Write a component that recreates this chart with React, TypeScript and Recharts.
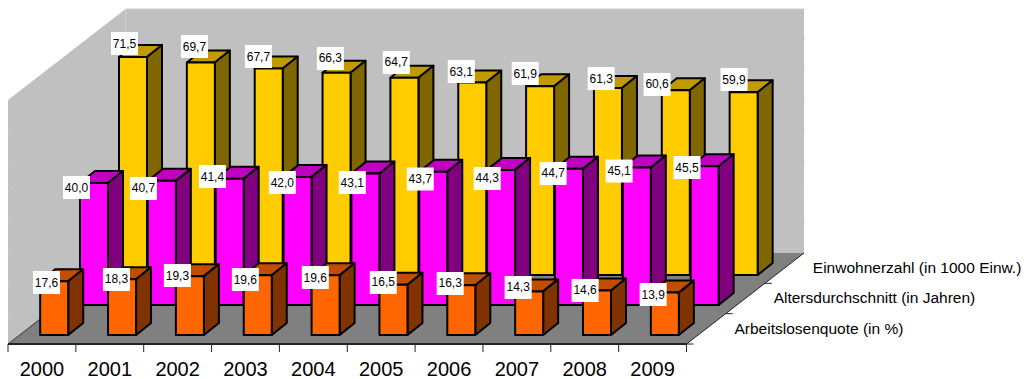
import React from "react";
import { Bar, ComposedChart, LabelList, XAxis, YAxis } from "recharts";

// Chart data
const years = ["2000", "2001", "2002", "2003", "2004", "2005", "2006", "2007", "2008", "2009"];
const einwohner = [71.5, 69.7, 67.7, 66.3, 64.7, 63.1, 61.9, 61.3, 60.6, 59.9];
const alter = [40.0, 40.7, 41.4, 42.0, 43.1, 43.7, 44.3, 44.7, 45.1, 45.5];
const arbeitslose = [17.6, 18.3, 19.3, 19.6, 19.6, 16.5, 16.3, 14.3, 14.6, 13.9];
const depthNames = ["Arbeitslosenquote (in %)", "Altersdurchschnitt (in Jahren)", "Einwohnerzahl (in 1000 Einw.)"];

const rows = years.map((year, i) => ({
  year,
  einwohner: einwohner[i],
  alter: alter[i],
  arbeitslose: arbeitslose[i],
}));

// Drawing geometry of the oblique projection
const WIDTH = 1026;
const HEIGHT = 379;
const FONT = "'Liberation Sans', Arial, sans-serif";
const PLOT = { left: 8, right: 686.5, top: 100, bottom: 344 };
const BACK = { dx: 117.5, dy: -91 };
const BOX = { dx: 15, dy: -12 };
const BAR_WIDTH = 28;
const Y_MAX = 80;
const Y_STEP = 10;

// Placement of each series' row on the floor, relative to the band position
const ROW_ORANGE = { dx: 12.2, dy: -9 };
const ROW_MAGENTA = { dx: 52, dy: -39 };
const ROW_YELLOW = { dx: 91, dy: -69 };

// Data label nudges from the front-top-left corner of each bar: [x, y]
const nudgeYellow = [[5.5, -13.4], [7.6, -15.9], [3.7, -12], [7.8, -14.3], [5.9, -15.2], [3, -11], [-0.9, -12.7], [7.2, -9.5], [-4.7, -5.7], [4.4, -12.8]];
const nudgeMagenta = [[-3.5, 4.5], [-4.4, 7.6], [-3.3, -2.2], [-1.2, 5.6], [0.9, 9], [1, 7.3], [0.1, 8.6], [-1.8, 4.8], [-3.7, 3.6], [-3.6, 1.3]];
const nudgeOrange = [[6.3, 1.2], [8.4, 0.3], [1.5, -0.6], [1.6, 4.3], [3.7, 2.3], [3.8, -2.2], [2.9, -1.8], [3, -3.9], [2.1, 0], [2.3, 1.9]];

type Row = { dx: number; dy: number };
type Palette = { front: string; top: string; side: string };

const YELLOW: Palette = { front: "#FFCC00", top: "#C09A00", side: "#806600" };
const MAGENTA: Palette = { front: "#FF00FF", top: "#C000C0", side: "#800080" };
const ORANGE: Palette = { front: "#FF6600", top: "#C04D00", side: "#803300" };

const pts = (list: number[][]) => list.map((p) => p.join(",")).join(" ");

// Extruded box for one bar
const boxShape = (row: Row, colors: Palette) => (props: any) => {
  const x = props.x + row.dx;
  const y = props.y + row.dy;
  const w = props.width;
  const h = props.height;
  const common = { stroke: "#000", strokeWidth: 2, strokeLinejoin: "round" as const };
  return (
    <g>
      <polygon {...common} fill={colors.top} points={pts([[x, y], [x + BOX.dx, y + BOX.dy], [x + w + BOX.dx, y + BOX.dy], [x + w, y]])} />
      <polygon {...common} fill={colors.side} points={pts([[x + w, y], [x + w + BOX.dx, y + BOX.dy], [x + w + BOX.dx, y + h + BOX.dy], [x + w, y + h]])} />
      <rect {...common} fill={colors.front} x={x} y={y} width={w} height={h} />
    </g>
  );
};

// White value tag beside a bar
const valueTag = (row: Row, nudges: number[][]) => (props: any) => {
  const [nx, ny] = nudges[props.index];
  const cx = props.x + row.dx + nx;
  const cy = props.y + row.dy + ny;
  return (
    <g>
      <rect x={cx - 13.5} y={cy - 11.5} width={27} height={23} fill="#fff" />
      <text x={cx} y={cy} textAnchor="middle" dominantBaseline="central" fontFamily={FONT} fontSize={12} fill="#000">
        {Number(props.value).toFixed(1).replace(".", ",")}
      </text>
    </g>
  );
};

// Walls and floor of the box behind the bars, plus the depth axis
function Backdrop() {
  const { left, right, top, bottom } = PLOT;
  const { dx, dy } = BACK;
  const step = (right - left) / years.length;
  const unit = (bottom - top) / Y_MAX;
  const wallTicks = Array.from({ length: Y_MAX / Y_STEP + 1 }, (_, i) => i * Y_STEP * unit);
  return (
    <g>
      <polygon fill="#C0C0C0" points={pts([[left, top], [left + dx, top + dy], [left + dx, bottom + dy], [left, bottom]])} />
      <polygon fill="#C0C0C0" points={pts([[left + dx, top + dy], [right + dx, top + dy], [right + dx, bottom + dy], [left + dx, bottom + dy]])} />
      <polygon fill="#808080" points={pts([[left, bottom], [left + dx, bottom + dy], [right + dx, bottom + dy], [right, bottom]])} />
      <line x1={left + dx} x2={right + dx} y1={top + dy} y2={top + dy} stroke="#CFCFCF" />
      {wallTicks.map((t) => (
        <line key={t} x1={right + dx} x2={right + dx + 1.5} y1={bottom + dy - t} y2={bottom + dy - t} stroke="#DDDDDD" />
      ))}
      {wallTicks.map((t) => (
        <line key={`l${t}`} x1={left} x2={left + 2} y1={bottom - t} y2={bottom - t} stroke="#CFCFCF" />
      ))}
      <line x1={left} y1={bottom} x2={left + dx} y2={bottom + dy} stroke="#333" />
      <line x1={right} y1={bottom} x2={right + dx} y2={bottom + dy} stroke="#222" />
      <line x1={left} y1={bottom} x2={right} y2={bottom} stroke="#222" strokeWidth={2} />
      {years.concat("").map((_, i) => (
        <line key={i} x1={left + i * step} x2={left + i * step} y1={bottom} y2={bottom + 8} stroke="#222" />
      ))}
      {depthNames.map((name, i) => {
        const ax = right + (dx * i) / 3;
        const ay = bottom + (dy * i) / 3;
        return (
          <g key={name}>
            <line x1={ax} x2={ax + 7} y1={ay} y2={ay} stroke="#222" />
            <text x={ax + 48} y={ay - 16} dominantBaseline="central" fontFamily={FONT} fontSize={15.5} fill="#000">
              {name}
            </text>
          </g>
        );
      })}
    </g>
  );
}

export default function App() {
  return (
    <div style={{ position: "absolute", left: 0, top: 0, width: WIDTH, height: HEIGHT }}>
      <ComposedChart
        width={WIDTH}
        height={HEIGHT}
        data={rows}
        barSize={BAR_WIDTH}
        barGap={-BAR_WIDTH}
        margin={{ top: PLOT.top, right: WIDTH - PLOT.right, bottom: 0, left: 0 }}
      >
        <Backdrop />
        <XAxis
          dataKey="year"
          height={HEIGHT - PLOT.bottom}
          axisLine={false}
          tickLine={false}
          tickSize={0}
          tickMargin={18}
          interval={0}
          tick={{ fill: "#000", fontFamily: FONT, fontSize: 20 }}
        />
        <YAxis width={PLOT.left} domain={[0, Y_MAX]} axisLine={false} tickLine={false} tick={false} />
        <Bar dataKey="einwohner" isAnimationActive={false} shape={boxShape(ROW_YELLOW, YELLOW)}>
          <LabelList dataKey="einwohner" content={valueTag(ROW_YELLOW, nudgeYellow)} />
        </Bar>
        <Bar dataKey="alter" isAnimationActive={false} shape={boxShape(ROW_MAGENTA, MAGENTA)}>
          <LabelList dataKey="alter" content={valueTag(ROW_MAGENTA, nudgeMagenta)} />
        </Bar>
        <Bar dataKey="arbeitslose" isAnimationActive={false} shape={boxShape(ROW_ORANGE, ORANGE)}>
          <LabelList dataKey="arbeitslose" content={valueTag(ROW_ORANGE, nudgeOrange)} />
        </Bar>
      </ComposedChart>
    </div>
  );
}
